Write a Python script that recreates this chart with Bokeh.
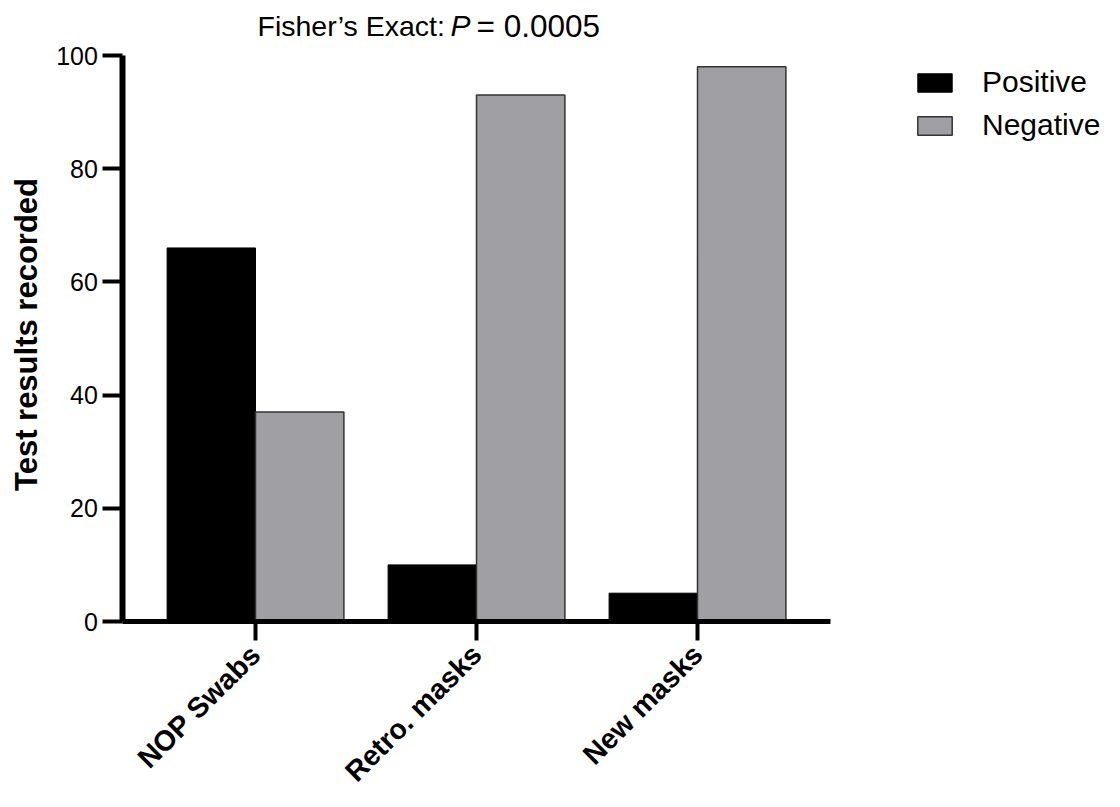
import math
from bokeh.plotting import figure
from bokeh.models import (Range1d, Label, Legend, LegendItem, FixedTicker,
                          ColumnDataSource)
from bokeh.transform import dodge
from bokeh.embed import file_html
from bokeh.resources import INLINE

categories = ["NOP Swabs", "Retro. masks", "New masks"]
positive = [66, 10, 5]
negative = [37, 93, 98]
y_ticks = [0, 20, 40, 60, 80, 100]
series_names = ["Positive", "Negative"]

FONT = "Liberation Sans"
idx = list(range(len(categories)))

source = ColumnDataSource(dict(idx=idx, cat=categories,
                               positive=positive, negative=negative))

# Layout: frame covers the whole canvas; axes placed at fixed data locations.
W, H = 1104, 791
PX_X = 221.0          # pixels per category
PX_Y = 5.66           # pixels per count
X0, Y0 = 255.0, 621.0  # canvas position of first category / zero line
x_start = -X0 / PX_X
x_end = (W - X0) / PX_X
y_start = (Y0 - H) / PX_Y
y_end = Y0 / PX_Y
y_axis_x = -0.6

p = figure(
    x_range=Range1d(x_start, x_end),
    y_range=Range1d(y_start, y_end),
    width=W, height=H,
    output_backend="svg", toolbar_location=None,
    min_border_left=0, min_border_right=0,
    min_border_top=0, min_border_bottom=0,
)

pos = p.vbar(x=dodge("idx", -0.2), top="positive", bottom=0, width=0.4,
             source=source, fill_color="black", line_color="black", line_width=1)
neg = p.vbar(x=dodge("idx", 0.2), top="negative", bottom=0, width=0.4,
             source=source, fill_color="#a0a0a4", line_color="#333333", line_width=1.5)

p.xgrid.visible = False
p.ygrid.visible = False
p.outline_line_color = None
p.background_fill_color = "white"
p.border_fill_color = "white"

# x axis
xa = p.xaxis[0]
xa.fixed_location = 0
xa.bounds = (y_axis_x, len(categories) - 1 - y_axis_x)
xa.ticker = FixedTicker(ticks=idx)
xa.major_label_overrides = {i: c for i, c in zip(idx, categories)}
xa.axis_line_width = 5
xa.axis_line_color = "black"
xa.major_tick_line_width = 4
xa.major_tick_line_color = "black"
xa.major_tick_out = 19
xa.major_tick_in = 0
xa.minor_tick_line_color = None
xa.major_label_orientation = math.pi / 4
xa.major_label_text_font = FONT
xa.major_label_text_font_style = "bold"
xa.major_label_text_font_size = "28.5px"
xa.major_label_text_color = "black"
xa.major_label_standoff = 9

# y axis
ya = p.yaxis[0]
ya.fixed_location = y_axis_x
ya.bounds = (0, 100)
ya.ticker = FixedTicker(ticks=y_ticks)
ya.axis_line_width = 6
ya.axis_line_color = "black"
ya.major_tick_line_width = 4
ya.major_tick_line_color = "black"
ya.major_tick_out = 20
ya.major_tick_in = 0
ya.minor_tick_line_color = None
ya.major_label_text_font = FONT
ya.major_label_text_font_size = "25px"
ya.major_label_text_color = "black"
ya.major_label_standoff = 5

# helper: canvas coords (top-left origin) -> screen units (bottom-left origin)
def sx(x):
    return x

def sy(y):
    return H - y

# y axis title
p.add_layout(Label(x=sx(26), y=sy(334), x_units="screen", y_units="screen",
                   text="Test results recorded", angle=math.pi / 2,
                   text_font=FONT, text_font_style="bold", text_font_size="31px",
                   text_color="black", text_align="center", text_baseline="middle"))

# chart title pieces
common = dict(x_units="screen", y_units="screen", text_font=FONT,
              text_font_size="28.5px", text_color="black",
              text_baseline="alphabetic", text_align="left")
title_y = sy(25)
p.add_layout(Label(x=sx(257), y=title_y, text="Fisher\u2019s Exact: ", **common))
p.add_layout(Label(x=sx(450), y=title_y, text="P", text_font_style="italic",
                   **{**common, "text_font_size": "30px"}))
p.add_layout(Label(x=sx(476), y=title_y, text="= 0.0005",
                   **{**common, "text_font_size": "31.5px"}))

legend = Legend(
    items=[LegendItem(label=series_names[0], renderers=[pos]),
           LegendItem(label=series_names[1], renderers=[neg])],
    location=(sx(913), sy(142)),
    glyph_width=43, glyph_height=23, label_height=33,
    label_text_font=FONT, label_text_font_size="30px", label_text_color="black",
    label_standoff=26, spacing=9, padding=0, margin=0,
    border_line_color=None, background_fill_alpha=0,
)
p.add_layout(legend, "center")

open("out.html", "w").write(file_html(p, INLINE))
